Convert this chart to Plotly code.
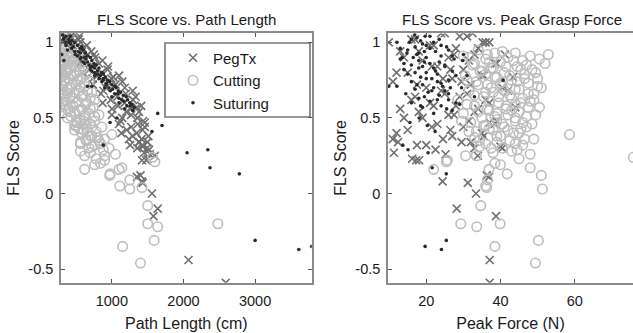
import plotly.graph_objects as go

# ---------------- data ----------------
# PegTx trials: FLS score, path length (cm), peak grasp force (N)
peg_score = [1.06, 1.06, 1.04, 1.04, 1.02, 1.02, 1.00, 1.00, 0.98, 0.98, 0.96, 0.96, 0.94, 0.94,
             0.92, 0.92, 0.90, 0.90, 0.88, 0.88, 0.86, 0.86, 0.84, 0.84, 0.82, 0.82, 0.80, 0.80,
             0.78, 0.78, 0.76, 0.76, 0.74, 0.74, 0.72, 0.72, 0.70, 0.70, 0.68, 0.68, 0.66, 0.66,
             0.64, 0.64, 0.62, 0.62, 0.60, 0.60, 0.58, 0.58, 0.56, 0.56, 0.54, 0.54, 0.52, 0.52,
             0.50, 0.50, 0.48, 0.48, 0.46, 0.46, 0.44, 0.44, 0.42, 0.42, 0.40, 0.40, 0.38, 0.38,
             0.36, 0.36, 0.34, 0.34, 0.32, 0.32, 0.30, 0.30,
             1.06, 1.00, 1.00, 0.92, 0.77, 0.57, 0.47, 0.34, 0.31,
             0.29, 0.27, 0.26, 0.25, 0.23, 0.22, 0.22, 0.12, 0.11, 0.08, 0.07, 0.00, -0.10,
             -0.15, -0.44, -0.59]
peg_path = [325, 463, 425, 547, 377, 537, 315, 480, 456, 650, 423, 596, 584, 713,
            448, 663, 581, 767, 570, 869, 556, 820, 744, 947, 684, 940, 595, 858,
            799, 1100, 731, 993, 954, 1145, 737, 1051, 915, 1181, 881, 1291, 848, 1195,
            1075, 1331, 985, 1295, 871, 1177, 1086, 1410, 1002, 1263, 1202, 1379, 1000, 1269,
            1144, 1356, 1120, 1437, 1099, 1361, 1270, 1459, 1208, 1430, 1133, 1346, 1289, 1510,
            1239, 1415, 1380, 1497, 1255, 1429, 1355, 1490,
            420, 400, 560, 750, 1020, 1350, 1460, 1380, 1430,
            1520, 1450, 1530, 1600, 1500, 1480, 1420, 1400, 1350, 1420, 1430, 1560, 1640,
            1580, 2070, 2590]
peg_force = [24, 25, 31, 29, 17, 16, 36, 37, 21, 22, 28, 34, 13, 18,
             33, 27.5, 26, 14, 19, 31.5, 39, 38.5, 23, 21.5, 30, 26.5, 15, 12,
             35, 35.5, 27, 24.5, 11, 29.5, 32, 17.5, 20, 40.5, 42, 24, 25, 31,
             29, 17, 16, 36, 37, 21, 22, 28, 34, 13, 18, 33, 27.5, 26,
             14, 19, 31.5, 39, 38.5, 23, 21.5, 30, 26.5, 15, 12, 35, 35.5, 27,
             24.5, 11, 29.5, 32, 17.5, 20, 40.5, 33,
             32.5, 9.9, 35.2, 41.2, 43.4, 44.0, 37.1, 12.4, 40.0,
             22.5, 11.3, 25.2, 33.9, 16.2, 18.1, 17.3, 36.3, 36.9, 24.4, 31.2, 33.4, 28.2,
             38.8, 37.1, 37.1]

# Cutting trials
cut_score = [0.95, 0.93, 0.92, 0.91, 0.90, 0.89, 0.88, 0.87, 0.86, 0.85, 0.84, 0.83, 0.82, 0.81,
             0.80, 0.79, 0.78, 0.77, 0.76, 0.75, 0.74, 0.73, 0.72, 0.71, 0.70, 0.69, 0.68, 0.67,
             0.66, 0.65, 0.64, 0.63, 0.62, 0.61, 0.60, 0.59, 0.58, 0.57, 0.56, 0.55, 0.54, 0.53,
             0.52, 0.51, 0.50, 0.49, 0.48, 0.47, 0.46, 0.45, 0.44, 0.43, 0.42, 0.41, 0.40, 0.39,
             0.38, 0.37, 0.36, 0.35, 0.34, 0.33, 0.31, 0.30, 0.28, 0.26, 0.25, 0.24, 0.22, 0.21,
             0.19, 0.17, 0.16, 0.16, 0.13, 0.12, 0.09, 0.05, 0.04, 0.03, -0.08, -0.20, -0.20,
             -0.22, -0.31, -0.35, -0.46,
             0.94, 0.93, 0.92, 0.91, 0.90, 0.89, 0.88, 0.87, 0.86, 0.85, 0.84, 0.83, 0.82, 0.81,
             0.80, 0.79, 0.78, 0.77, 0.76, 0.75, 0.74, 0.73, 0.72, 0.71, 0.70, 0.69, 0.68, 0.67,
             0.66, 0.65, 0.64, 0.63, 0.62, 0.61, 0.60, 0.59, 0.58, 0.57, 0.56, 0.55, 0.54, 0.53,
             0.52, 0.51, 0.50, 0.48, 0.47, 0.46, 0.45, 0.44, 0.43, 0.42, 0.41, 0.40, 0.38, 0.36,
             0.35, 0.33, 0.32, 0.30, 0.29, 0.27, 0.25, 0.23, 0.20]
cut_path = [300, 330, 380, 300, 420, 350, 310, 460, 390, 330, 500, 420, 300, 550,
            360, 470, 320, 590, 400, 520, 340, 620, 440, 310, 560, 380, 660, 480,
            330, 600, 420, 700, 360, 530, 650, 300, 460, 740, 580, 390, 480, 680,
            820, 430, 610, 550, 760, 520, 700, 500, 860, 650, 600, 780, 580, 1000,
            720, 800, 900, 640, 560, 840, 720, 960, 560, 1050, 900, 1570, 900, 1600,
            760, 1140, 620, 1100, 975, 970, 1250, 1110, 1420, 1250, 1500, 1500, 2480,
            1640, 1590, 1150, 1400,
            280, 450, 310, 520, 290, 480, 400, 300, 560, 440, 310, 600, 370, 290,
            510, 640, 430, 300, 560, 350, 680, 290, 500, 620, 410, 300, 540, 720,
            380, 290, 580, 460, 760, 320, 500, 640, 360, 280, 700, 540, 420, 300,
            620, 760, 380, 560, 500, 620, 480, 720, 540, 480, 660, 580, 700, 640,
            820, 560, 760, 680, 880, 700, 620, 780, 840]
cut_force = [34.0, 38.5, 52.9, 30.0, 42.0, 36.0, 46.0, 40.0, 52.0, 32.5, 44.5, 37.5, 48.5, 35.0,
             41.0, 46.5, 30.5, 39.0, 50.0, 43.0, 33.5, 47.5, 36.5, 40.5, 51.0, 44.0, 31.5, 38.0,
             49.0, 42.5, 35.5, 46.0, 28.5, 48.0, 39.5, 44.0, 33.0, 50.5, 41.5, 37.0, 45.0, 30.0,
             42.0, 47.0, 35.0, 39.0, 44.0, 32.0, 48.5, 36.0, 41.0, 45.5, 38.0, 33.5, 43.5, 58.6,
             40.0, 33.0, 46.5, 34.4, 39.0, 44.0, 34.4, 37.5, 43.0, 48.0, 30.6, 75.8, 25.7, 25.4,
             40.0, 48.0, 36.9, 22.0, 41.8, 51.0, 36.5, 36.0, 36.3, 51.3, 34.7, 39.9, 29.3,
             33.6, 50.2, 38.5, 49.4,
             40.5, 44.0, 36.5, 48.0, 31.5, 50.5, 43.5, 37.0, 33.0, 47.0, 41.5, 38.0, 45.5, 34.5,
             49.5, 36.0, 42.5, 38.5, 46.5, 31.0, 44.5, 40.0, 34.0, 50.0, 37.5, 45.0, 41.0, 36.0,
             47.5, 33.0, 39.5, 43.0, 49.0, 37.0, 45.5, 31.0, 41.5, 47.5, 36.5, 43.0, 34.0, 39.0,
             49.5, 38.5, 44.0, 29.5, 46.0, 40.5, 35.5, 47.0, 37.0, 42.0, 31.5, 45.0, 39.0, 49.0,
             42.5, 36.0, 46.0, 40.5, 44.5, 38.0, 33.5, 45.0, 38.5]

# Suturing trials
sut_score = [1.05, 1.04, 1.03, 1.02, 1.01, 1.00, 1.00, 0.99, 0.98, 0.97, 0.96, 0.95, 0.95, 0.94,
             0.93, 0.92, 0.92, 0.91, 0.90, 0.90, 0.89, 0.88, 0.88, 0.87, 0.86, 0.85, 0.85, 0.84,
             0.83, 0.82, 0.81, 0.80, 0.80, 0.79, 0.78, 0.77, 0.76, 0.75, 0.75, 0.74, 0.73, 0.72,
             0.71, 0.71, 0.71, 0.70, 0.70, 0.69, 0.68, 0.67, 0.66, 0.65, 0.64, 0.63, 0.62, 0.61,
             0.60, 0.59, 0.58, 0.57, 0.55, 0.53, 0.50, 0.47, 0.45, 0.41, 0.32, 0.29, 0.27, 0.17,
             0.13, -0.31, -0.37, -0.35,
             1.04, 1.02, 1.00, 0.98, 0.97, 0.96, 0.94, 0.93, 0.91, 0.90, 0.89, 0.87, 0.86, 0.84,
             0.83, 0.81, 0.79, 0.78, 0.76, 0.74, 0.72, 0.70, 0.68, 0.66, 0.64, 0.62, 0.60, 0.58,
             0.56]
sut_path = [310, 360, 330, 400, 440, 350, 480, 420, 520, 460, 560, 380, 600, 530,
            630, 490, 300, 660, 570, 700, 640, 720, 330, 600, 750, 680, 780, 730,
            820, 700, 800, 860, 760, 880, 840, 910, 820, 940, 880, 970, 920, 1000,
            1040, 660, 720, 960, 1060, 1010, 1090, 1120, 1040, 1160, 1200, 1100, 1220, 1170,
            1250, 1280, 1210, 1310, 1290, 1640, 1070, 975, 1700, 1560, 880, 2340, 2050, 2370,
            2780, 3000, 3610, 3790,
            420, 320, 400, 360, 580, 440, 480, 560, 520, 620, 560, 660, 620, 700,
            760, 720, 800, 760, 880, 860, 920, 900, 980, 1080, 1000, 1140, 1100, 1260,
            1180]
sut_force = [16.9, 19.7, 17.5, 16.0, 18.5, 12.1, 22.0, 19.0, 24.0, 17.0, 21.0, 26.0, 15.0, 19.5,
             14.8, 17.5, 30.0, 27.0, 20.0, 13.5, 13.0, 29.8, 18.0, 23.5, 21.0, 16.0, 25.0, 19.0,
             22.0, 14.0, 27.0, 20.0, 17.0, 23.0, 31.0, 18.5, 21.5, 26.0, 40.7, 16.0, 24.0, 19.0,
             24.4, 9.9, 12.1, 26.5, 22.0, 17.0, 25.0, 20.5, 14.5, 23.5, 33.0, 18.0, 26.0, 21.0,
             16.0, 29.0, 24.0, 19.0, 27.0, 22.0, 18.1, 15.6, 20.3, 22.4, 13.7, 15.1, 20.5, 21.6,
             25.4, 25.4, 24.1, 19.7,
             21.0, 23.5, 15.5, 20.0, 25.5, 13.0, 22.5, 18.0, 24.0, 16.5, 27.5, 19.5, 14.0, 25.0,
             18.0, 22.5, 15.0, 28.0, 20.0, 23.0, 17.5, 29.5, 21.5, 26.0, 19.5, 23.0, 28.0, 18.5,
             25.5]

series_names = ["PegTx", "Cutting", "Suturing"]
x_ticks_path = [1000, 2000, 3000]
x_ticks_force = [20, 40, 60]
y_ticks = [-0.5, 0, 0.5, 1]
y_tick_text = ["-0.5", "0", "0.5", "1"]

# ---------------- styling ----------------
FONT = "Liberation Sans, Arial, Helvetica, sans-serif"
TXT = "#1a1a1a"
peg_style = dict(symbol="x-thin-open", size=8, color="#707070", line=dict(width=1.6, color="#707070"))
cut_style = dict(symbol="circle-open", size=9.5, color="#bdbdbd", line=dict(width=1.6, color="#bdbdbd"))
sut_style = dict(symbol="circle", size=3.6, color="#2a2a2a", line=dict(width=0))

fig = go.Figure()

# left: path length
fig.add_trace(go.Scatter(x=peg_path, y=peg_score, mode="markers", name=series_names[0],
                         marker=peg_style, xaxis="x", yaxis="y"))
fig.add_trace(go.Scatter(x=cut_path, y=cut_score, mode="markers", name=series_names[1],
                         marker=cut_style, xaxis="x", yaxis="y"))
fig.add_trace(go.Scatter(x=sut_path, y=sut_score, mode="markers", name=series_names[2],
                         marker=sut_style, xaxis="x", yaxis="y"))
# right: peak force
fig.add_trace(go.Scatter(x=peg_force, y=peg_score, mode="markers", name=series_names[0],
                         marker=peg_style, xaxis="x2", yaxis="y2", showlegend=False))
fig.add_trace(go.Scatter(x=cut_force, y=cut_score, mode="markers", name=series_names[1],
                         marker=cut_style, xaxis="x2", yaxis="y2", showlegend=False))
fig.add_trace(go.Scatter(x=sut_force, y=sut_score, mode="markers", name=series_names[2],
                         marker=sut_style, xaxis="x2", yaxis="y2", showlegend=False))

W, H = 633, 333
L_X0, L_X1 = 61 / W, 311.7 / W
R_X0, R_X1 = 388 / W, 1.0
Y0, Y1 = (H - 282.7) / H, (H - 33.3) / H

axis_common = dict(showgrid=False, zeroline=False, showline=True, linecolor="#8a8a8a",
                   linewidth=1.6, ticks="inside", ticklen=4, tickwidth=1.2, tickcolor="#555",
                   tickfont=dict(family=FONT, size=14.5, color=TXT))
title_font = dict(family=FONT, size=16, color=TXT)

fig.update_layout(
    width=W, height=H,
    margin=dict(l=0, r=0, t=0, b=0),
    paper_bgcolor="white", plot_bgcolor="white",
    font=dict(family=FONT, color=TXT),
    xaxis=dict(domain=[L_X0, L_X1], range=[290, 3790], tickvals=x_ticks_path, mirror="ticks",
               anchor="y", ticklabelstandoff=4,
               title=dict(text="Path Length (cm)", font=title_font, standoff=10),
               **axis_common),
    yaxis=dict(domain=[Y0, Y1], range=[-0.59, 1.06], tickvals=y_ticks, ticktext=y_tick_text,
               mirror="ticks", anchor="x", ticklabelstandoff=3,
               title=dict(text="FLS Score", font=title_font, standoff=5), **axis_common),
    xaxis2=dict(domain=[R_X0, R_X1], range=[9.7, 75.7], tickvals=x_ticks_force, mirror="ticks",
                anchor="y2", ticklabelstandoff=4,
                title=dict(text="Peak Force (N)", font=title_font, standoff=10),
                **axis_common),
    yaxis2=dict(domain=[Y0, Y1], range=[-0.59, 1.06], tickvals=y_ticks, ticktext=y_tick_text,
                mirror=False, anchor="x2", ticklabelstandoff=3,
                title=dict(text="FLS Score", font=title_font, standoff=5), **axis_common),
    legend=dict(x=173 / W, y=1 - 41.5 / H, xanchor="left", yanchor="top",
                bgcolor="rgba(0,0,0,0)", borderwidth=0,
                font=dict(family=FONT, size=15, color=TXT), itemwidth=30),
    shapes=[dict(type="rect", xref="paper", yref="paper", x0=165 / W, x1=310 / W,
                 y0=1 - 117 / H, y1=1 - 43 / H, line=dict(color="#777", width=1.6),
                 fillcolor="white", layer="below")],
    annotations=[
        dict(text="FLS Score vs. Path Length", xref="paper", yref="paper",
             x=(L_X0 + L_X1) / 2, y=1 - 19 / H, xanchor="center", yanchor="middle",
             showarrow=False, font=dict(family=FONT, size=15, color=TXT)),
        dict(text="FLS Score vs. Peak Grasp Force", xref="paper", yref="paper",
             x=512 / W, y=1 - 19 / H, xanchor="center", yanchor="middle",
             showarrow=False, font=dict(family=FONT, size=15, color=TXT)),
    ],
)

fig.write_html("out.html", config={"displayModeBar": False},
               post_script="document.body.style.margin='0';document.body.style.overflow='hidden';")
